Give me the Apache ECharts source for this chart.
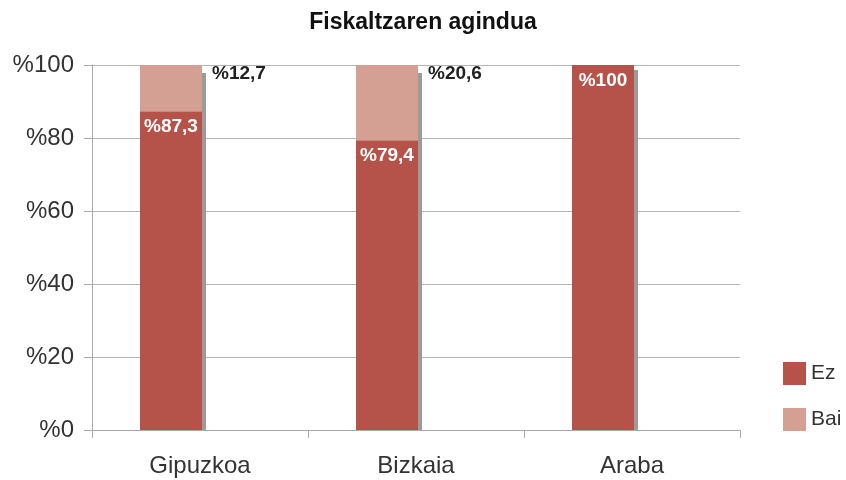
<!DOCTYPE html>
<html>
<head>
<meta charset="utf-8">
<script src="https://cdn.jsdelivr.net/npm/echarts@6/dist/echarts.min.js"></script>
<style>
  html, body { margin: 0; padding: 0; background: #fff; }
</style>
</head>
<body>
<div id="chart" style="width: 846px;height: 480px"></div>
<script>
const categories = ['Gipuzkoa', 'Bizkaia', 'Araba']
const ezValues = [87.3, 79.4, 100]
const baiValues = [12.7, 20.6, 0]
const shadowValues = [97.8, 97.8, 98.6]
const yTicks = [0, 20, 40, 60, 80, 100]

const fontFamily = '"Liberation Sans", Arial, sans-serif'
const fmt = v => '%' + String(v).replace('.', ',')

const chart = echarts.init(document.getElementById('chart'))
const options = {
  animation: false,
  title: {
    text: 'Fiskaltzaren agindua',
    left: 'center',
    top: 6,
    textStyle: { fontFamily, fontSize: 23, fontWeight: 'bold', color: '#111' }
  },
  grid: { left: 92, right: 106, top: 65, bottom: 50 },
  legend: {
    data: ['Ez', 'Bai'],
    orient: 'vertical',
    left: 778,
    top: 357,
    icon: 'rect',
    itemWidth: 23,
    itemHeight: 23,
    itemGap: 23,
    textStyle: { fontFamily, fontSize: 21, color: '#333', padding: [0, 0, 0, 0] }
  },
  xAxis: {
    type: 'category',
    data: categories,
    axisLine: { lineStyle: { color: '#aaa' } },
    axisTick: { show: true, length: 8, lineStyle: { color: '#aaa' } },
    axisLabel: { fontFamily, fontSize: 24, color: '#333', margin: 24 }
  },
  yAxis: {
    type: 'value',
    min: yTicks[0],
    max: yTicks[yTicks.length - 1],
    interval: 20,
    axisLine: { show: true, lineStyle: { color: '#aaa' } },
    axisTick: { show: true, length: 8, lineStyle: { color: '#aaa' } },
    axisLabel: { fontFamily, fontSize: 24, color: '#333', margin: 18, formatter: v => '%' + v },
    splitLine: { lineStyle: { color: '#b5b5b5' } }
  },
  series: [
    {
      name: 'Ez',
      type: 'bar',
      stack: 'a',
      barWidth: 62,
      barGap: 0,
      itemStyle: { color: '#b5534b' },
      label: {
        show: true,
        position: 'insideTop',
        distance: 6,
        color: '#fff',
        fontFamily,
        fontSize: 19,
        fontWeight: 'bold',
        formatter: p => fmt(p.value)
      },
      data: ezValues
    },
    {
      name: 'Bai',
      type: 'bar',
      stack: 'a',
      barWidth: 62,
      barGap: 0,
      itemStyle: { color: '#d4a093' },
      label: {
        show: true,
        position: [72, -1],
        align: 'left',
        verticalAlign: 'top',
        color: '#222',
        fontFamily,
        fontSize: 19,
        fontWeight: 'bold',
        formatter: p => p.value ? fmt(p.value) : ''
      },
      data: baiValues
    },
    {
      name: 'shadow',
      type: 'bar',
      barWidth: 4,
      barGap: 0,
      itemStyle: { color: '#9b9b9b' },
      silent: true,
      data: shadowValues
    },
    {
      name: 'spacer',
      type: 'bar',
      barWidth: 54,
      barGap: 0,
      itemStyle: { color: 'transparent' },
      silent: true,
      data: [0, 0, 0]
    }
  ]
}
chart.setOption(options)
</script>
</body>
</html>
